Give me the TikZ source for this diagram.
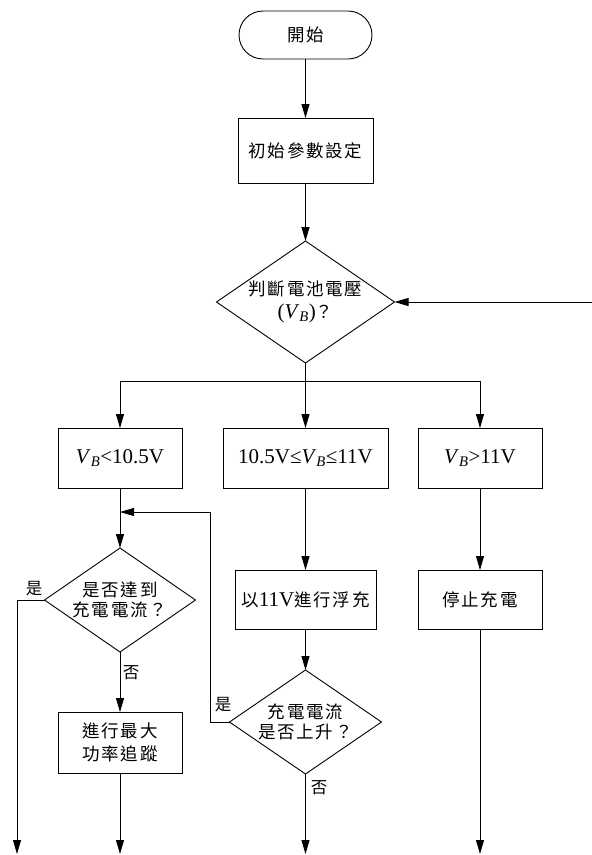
\documentclass[tikz,border=0pt]{standalone}
\usepackage{fontspec}
\setmainfont{Liberation Serif}
\newfontfamily\cjkfont[LetterSpace=10]{Noto Sans CJK TC}
\newcommand{\lat}[1]{{\fontsize{21}{21}\selectfont\rmfamily #1}}
\newcommand{\myVB}{\textit{V}\textsubscript{\textit{B}}}
\usetikzlibrary{shapes.geometric,arrows.meta}
\begin{document}
\begin{tikzpicture}[x=1pt,y=-1pt,
  every node/.style={font=\fontsize{17.5}{20}\selectfont\cjkfont, inner sep=0pt, outer sep=0pt, align=center},
  box/.style={draw, line width=0.9pt, rectangle},
  term/.style={draw, line width=0.9pt, rectangle, rounded corners=24pt},
  dec/.style={draw, diamond, line width=0.9pt},
  ln/.style={line width=0.9pt},
  arr/.style={line width=0.9pt, -{Triangle[length=14pt,width=8pt]}},
  lbl/.style={font=\fontsize{16.5}{18}\selectfont\cjkfont}
]
\useasboundingbox (0,0) rectangle (592,855);

\node[term, minimum width=133pt, minimum height=48pt] (start) at (305.5,35) {開始};
\node[box, minimum width=135pt, minimum height=65pt] (init) at (305.5,150.5) {初始參數設定};
\node[dec, minimum width=178pt, minimum height=122pt, shape aspect=1.46] (d1) at (305.5,302) {判斷電池電壓\\[3pt]\lat{(\myVB)}？};

\node[box, minimum width=124pt, minimum height=60pt] (b1) at (120,458) {\lat{\myVB<10.5V}};
\node[box, minimum width=165pt, minimum height=60pt] (b2) at (305.5,458) {\lat{10.5V≤\myVB≤11V}};
\node[box, minimum width=124pt, minimum height=60pt] (b3) at (480,458) {\lat{\myVB>11V}};

\node[dec, minimum width=151pt, minimum height=104pt, shape aspect=1.45] (d2) at (120,600) {是否達到\\充電電流？};
\node[box, minimum width=124pt, minimum height=61pt] (b4) at (120,742.5) {進行最大\\[3pt]功率追蹤};

\node[box, minimum width=141pt, minimum height=59pt] (b5) at (305.5,599.5) {以\lat{11V}進行浮充};
\node[box, minimum width=124pt, minimum height=59pt] (b6) at (480,599.5) {停止充電};

\node[dec, minimum width=152pt, minimum height=104pt, shape aspect=1.46] (d3) at (305.5,722) {充電電流\\是否上升？};

\node[lbl] (y1) at (34,589) {是};
\node[lbl] (n1) at (131,673) {否};
\node[lbl] (y2) at (223,705) {是};
\node[lbl] (n2) at (319,788) {否};

\coordinate (jl) at (120,381);
\coordinate (jm) at (305.5,381);
\coordinate (jr) at (480,381);
\coordinate (fbR) at (592,302);
\coordinate (m1) at (120,512);
\coordinate (fbL) at (210,512);
\coordinate (o1) at (17,854);
\coordinate (o2) at (120,854);
\coordinate (o3) at (305.5,854);
\coordinate (o4) at (480,854);

\draw[arr] (start) -- (init);
\draw[arr] (init) -- (d1);
\draw[arr] (d1.south) -- (b2.north);
\draw[ln] (jl) -- (jr);
\draw[arr] (jl) -- (b1.north);
\draw[arr] (jr) -- (b3.north);
\draw[arr] (fbR) -- (d1.east);
\draw[arr] (b1) -- (d2);
\draw[arr] (d3.west) -| (fbL) -- (m1);
\draw[arr] (d2.west) -| (o1);
\draw[arr] (d2) -- (b4);
\draw[arr] (b4) -- (o2);
\draw[arr] (b2) -- (b5);
\draw[arr] (b3) -- (b6);
\draw[arr] (b5) -- (d3);
\draw[arr] (d3) -- (o3);
\draw[arr] (b6) -- (o4);
\end{tikzpicture}
\end{document}
